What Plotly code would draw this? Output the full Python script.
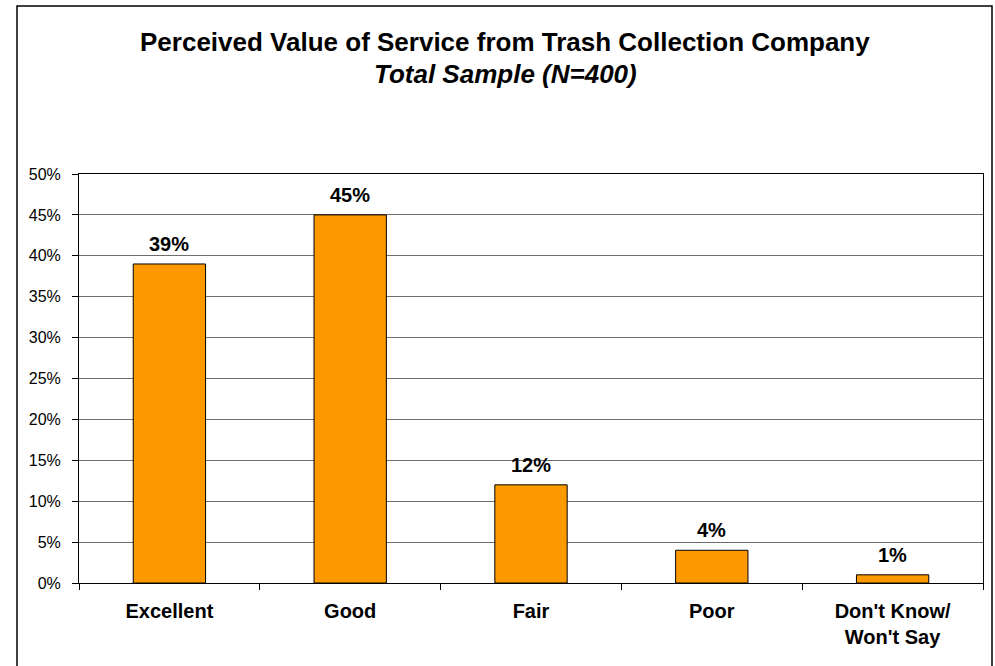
import plotly.graph_objects as go

categories = ["Excellent", "Good", "Fair", "Poor", "Don't Know/<br>Won't Say"]
values = [0.39, 0.45, 0.12, 0.04, 0.01]
labels = ["39%", "45%", "12%", "4%", "1%"]
title_line1 = "Perceived Value of Service from Trash Collection Company"
title_line2 = "Total Sample (N=400)"

FONT = "Arial, Liberation Sans, sans-serif"
W, H = 995, 666
L, R, T, B = 79, 12, 174, 83
pw, ph = W - L - R, H - T - B


def px_x(x):
    return (x - L) / pw


def px_y(y):
    return (H - B - y) / ph


fig = go.Figure()
fig.add_trace(go.Bar(
    x=categories, y=values,
    marker=dict(color="#FF9900", line=dict(color="black", width=1)),
    hoverinfo="skip",
))

for c, v, t in zip(categories, values, labels):
    fig.add_annotation(x=c, y=v, text=f"<b>{t}</b>", showarrow=False,
                       yanchor="bottom", yshift=7,
                       font=dict(family=FONT, size=20, color="black"))

fig.add_annotation(xref="paper", yref="paper", x=px_x(505), y=px_y(42),
                   text=f"<b>{title_line1}</b>", showarrow=False,
                   xanchor="center", yanchor="middle",
                   font=dict(family=FONT, size=26, color="black"))
fig.add_annotation(xref="paper", yref="paper", x=px_x(505), y=px_y(74),
                   text=f"<b><i>{title_line2}</i></b>", showarrow=False,
                   xanchor="center", yanchor="middle",
                   font=dict(family=FONT, size=26, color="black"))

fig.add_shape(type="rect", xref="paper", yref="paper",
              x0=px_x(17), x1=px_x(992), y0=px_y(680), y1=px_y(6),
              line=dict(color="black", width=1.5), fillcolor="rgba(0,0,0,0)",
              layer="above")

fig.update_layout(
    width=W, height=H,
    margin=dict(l=L, r=R, t=T, b=B, pad=0),
    paper_bgcolor="white", plot_bgcolor="white",
    bargap=0.6, showlegend=False,
    font=dict(family=FONT, color="black"),
)
fig.update_xaxes(
    type="category", tickson="boundaries", ticks="outside", ticklen=6,
    tickcolor="black", showline=True, linecolor="black", linewidth=1,
    mirror=True, showgrid=False,
    tickfont=dict(family=FONT, size=20, color="black"),
    ticklabelstandoff=10,
    tickvals=categories, ticktext=[f"<b>{c}</b>" for c in categories],
)
fig.update_yaxes(
    range=[0, 0.5], dtick=0.05, tickformat=".0%", ticks="outside", ticklen=6,
    tickcolor="black", showline=True, linecolor="black", linewidth=1,
    mirror=True, showgrid=True, gridcolor="#6e6e6e", gridwidth=1,
    tickfont=dict(family=FONT, size=16, color="black"),
    ticklabelstandoff=8, zeroline=False,
)

fig.write_html("out.html",
               config={"displayModeBar": False},
               post_script="document.body.style.margin='0';document.body.style.overflow='hidden';")
